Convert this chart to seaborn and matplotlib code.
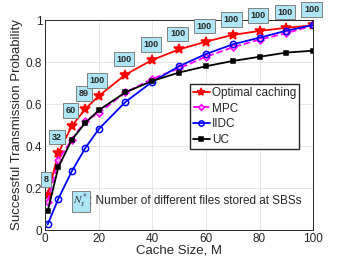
import matplotlib
matplotlib.use("Agg")
import matplotlib.pyplot as plt
import seaborn as sns
import pandas as pd

cache_size = [1, 5, 10, 15, 20, 30, 40, 50, 60, 70, 80, 90, 100]
optimal = [0.167, 0.368, 0.495, 0.576, 0.638, 0.74, 0.81, 0.86, 0.897, 0.929, 0.948, 0.963, 0.975]
mpc = [0.135, 0.335, 0.43, 0.52, 0.557, 0.655, 0.72, 0.77, 0.825, 0.87, 0.907, 0.937, 0.975]
iidc = [0.027, 0.15, 0.28, 0.39, 0.48, 0.61, 0.706, 0.78, 0.838, 0.884, 0.916, 0.949, 0.976]
uc = [0.09, 0.30, 0.43, 0.51, 0.57, 0.656, 0.71, 0.75, 0.78, 0.805, 0.825, 0.845, 0.854]
num_files = [8, 32, 60, 89, 100, 100, 100, 100, 100, 100, 100, 100, 100]

df = pd.DataFrame({"M": cache_size, "Optimal caching": optimal, "MPC": mpc,
                   "IIDC": iidc, "UC": uc})

sns.set_style("whitegrid")
plt.rcParams["font.family"] = ["Liberation Sans", "DejaVu Sans"]
plt.rcParams["mathtext.fontset"] = "stix"

fig = plt.figure(figsize=(3.46, 2.6), dpi=100)
ax = fig.add_axes([0.130, 0.115, 0.775, 0.808])

styles = {
    "Optimal caching": dict(color="#ff0000", marker="*", ms=7, ls="-"),
    "MPC": dict(color="#ff00ff", marker="D", ms=3.5, ls="--", mfc="#ffaaff"),
    "IIDC": dict(color="#0000ff", marker="o", ms=4.5, ls="-", mfc="none"),
    "UC": dict(color="black", marker="s", ms=3.5, ls="-"),
}
for name, st in styles.items():
    sns.lineplot(data=df, x="M", y=name, ax=ax, label=name, color=st["color"],
                 marker=st["marker"], markersize=st["ms"], linestyle=st["ls"],
                 linewidth=1.3, markeredgecolor=st["color"],
                 markerfacecolor=st.get("mfc", st["color"]), markeredgewidth=1.1)

for x, y, n in zip(cache_size, optimal, num_files):
    ax.annotate(str(n), (x, y), xytext=(-1, 8), textcoords="offset points",
                ha="center", va="bottom", fontsize=6.5, fontweight="bold",
                bbox=dict(boxstyle="square,pad=0.3", fc="#aee6f7", ec="#808080", lw=0.7),
                annotation_clip=False, zorder=5)

ax.text(10.6, 0.137, r"$N_s^*$", fontsize=8, va="center", ha="left",
        bbox=dict(boxstyle="square,pad=0.15", fc="#aee6f7", ec="#808080", lw=0.7))
ax.text(16.4, 0.137, ": Number of different files stored at SBSs", fontsize=8.5,
        va="center", ha="left")

ax.set_xlim(0, 100)
ax.set_ylim(0, 1)
ax.set_xticks([0, 20, 40, 60, 80, 100])
ax.set_yticks([0, 0.2, 0.4, 0.6, 0.8, 1])
ax.set_yticklabels(["0", "0.2", "0.4", "0.6", "0.8", "1"])
ax.tick_params(labelsize=8.5, pad=2, length=0)
ax.set_xlabel("Cache Size, M", fontsize=9.5, labelpad=0)
ax.set_ylabel("Successful Transmission Probability", fontsize=9.5, labelpad=2)
ax.grid(True, color="#e6e6e6", linewidth=0.7)
for sp in ax.spines.values():
    sp.set_color("#262626")
    sp.set_linewidth(0.7)

ax.legend(loc="upper left", bbox_to_anchor=(0.541, 0.695), borderaxespad=0,
          fontsize=8.5, frameon=True, fancybox=False, edgecolor="#262626",
          framealpha=1, borderpad=0.25, labelspacing=0.3, handlelength=1.4,
          handletextpad=0.2, markerscale=0.85)

fig.savefig("out.png", dpi=100)
